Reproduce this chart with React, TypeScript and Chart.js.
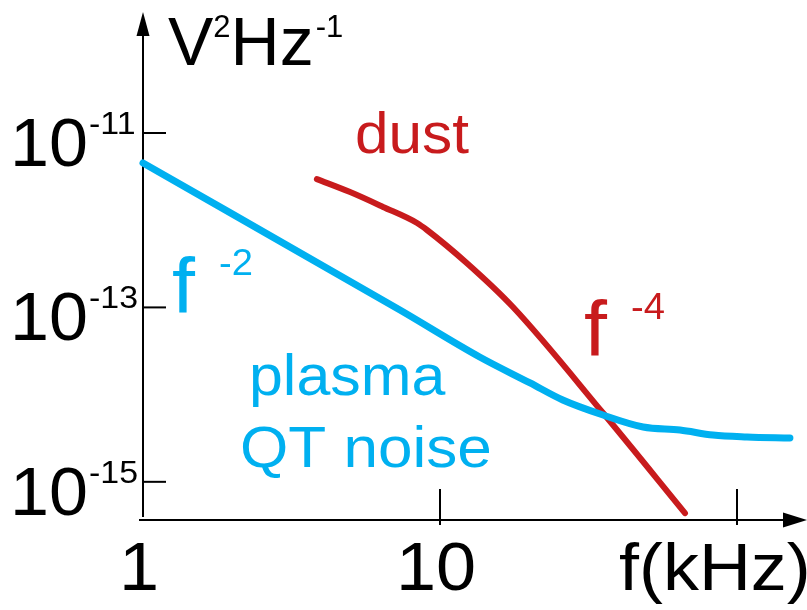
import React, { useEffect, useRef } from "react";
import { Chart, registerables } from "chart.js";

Chart.register(...registerables);

// Plasma QT noise spectrum (kHz, V^2/Hz)
const plasmaFreq = [1, 7.33, 13.6, 20.1, 25.9, 35.4, 48.3, 64.3, 83.0, 108, 150.7];
const plasmaPSD = [4.53e-12, 9.33e-14, 2.7e-14, 1.36e-14, 8.67e-15, 5.83e-15, 4.25e-15, 3.93e-15, 3.44e-15, 3.27e-15, 3.18e-15];

// Dust spectrum
const dustFreq = [3.85, 4.98, 6.43, 8.37, 9.04, 12.3, 17.6, 35.4, 66.8];
const dustPSD = [2.96e-12, 2.1e-12, 1.42e-12, 9.28e-13, 7.72e-13, 3.23e-13, 1.01e-13, 6.15e-15, 4.38e-16];

// Axis ticks
const xTickValues = [1, 10, 100];
const xTickLabels = ["1", "10", ""];
const yTickValues = [1e-11, 1e-13, 1e-15];
const yTickExponents = ["-11", "-13", "-15"];

const X_MIN = 1;
const X_MAX = 159.2;
const Y_MIN = 3.65e-16;
const Y_MAX = 2.44e-10;

const BLUE = "#00b0f0";
const RED = "#c81b1d";
const FONT = '"Liberation Sans", Arial, Helvetica, sans-serif';
const STRETCH = 1.06;

function txt(ctx: CanvasRenderingContext2D, s: string, x: number, y: number, size: number, align: CanvasTextAlign = "left", sx = STRETCH) {
  ctx.save();
  ctx.font = `${size}px ${FONT}`;
  ctx.textAlign = align;
  ctx.translate(x, y);
  ctx.scale(sx, 1);
  ctx.fillText(s, 0, 0);
  const w = ctx.measureText(s).width * sx;
  ctx.restore();
  return w;
}

const axesPlugin = {
  id: "arrowAxes",
  beforeDatasetsDraw(chart: any) {
    const ctx = chart.ctx;
    const xs = chart.scales.x;
    const ys = chart.scales.y;
    const ca = chart.chartArea;
    const ax = xs.getPixelForValue(1);
    const ay = ca.bottom;
    ctx.save();
    ctx.strokeStyle = "#000";
    ctx.fillStyle = "#000";
    ctx.lineWidth = 2;
    // y axis
    ctx.beginPath();
    ctx.moveTo(ax, ay - 3);
    ctx.lineTo(ax, ca.top + 22);
    ctx.stroke();
    ctx.beginPath();
    ctx.moveTo(ax, ca.top);
    ctx.lineTo(ax - 6.5, ca.top + 24);
    ctx.lineTo(ax + 6.5, ca.top + 24);
    ctx.closePath();
    ctx.fill();
    // x axis
    ctx.beginPath();
    ctx.moveTo(ax - 4, ay);
    ctx.lineTo(chart.width - 24, ay);
    ctx.stroke();
    ctx.beginPath();
    ctx.moveTo(chart.width, ay);
    ctx.lineTo(chart.width - 24, ay - 7.5);
    ctx.lineTo(chart.width - 24, ay + 7.5);
    ctx.closePath();
    ctx.fill();
    // y ticks
    yTickValues.forEach((v) => {
      const py = ys.getPixelForValue(v);
      ctx.beginPath();
      ctx.moveTo(ax, py);
      ctx.lineTo(ax + 23, py);
      ctx.stroke();
    });
    // x ticks (skip origin)
    xTickValues.slice(1).forEach((v) => {
      const px = xs.getPixelForValue(v);
      ctx.beginPath();
      ctx.moveTo(px, ay - 31);
      ctx.lineTo(px, ay + 5);
      ctx.stroke();
    });
    ctx.restore();
  },
  afterDatasetsDraw(chart: any) {
    const ctx = chart.ctx;
    const xs = chart.scales.x;
    const ys = chart.scales.y;
    const ca = chart.chartArea;
    const ax = xs.getPixelForValue(1);
    ctx.save();
    ctx.textBaseline = "alphabetic";
    ctx.fillStyle = "#000";

    // y tick labels 10^n
    yTickValues.forEach((v, i) => {
      const py = ys.getPixelForValue(v);
      txt(ctx, "10", ax - 55, py + 33, 68, "right", 1.03);
      txt(ctx, yTickExponents[i], ax - 54, py + 1, 32, "left");
    });

    // x tick labels
    xTickValues.forEach((v, i) => {
      if (!xTickLabels[i]) return;
      const px = xs.getPixelForValue(v);
      txt(ctx, xTickLabels[i], px - 4, ca.bottom + 70, 68, "center");
    });
    txt(ctx, "f(kHz)", 619, ca.bottom + 70, 66, "left", 1.09);

    // y axis unit V^2 Hz^-1
    let x = ax + 25;
    const base = 65;
    x += txt(ctx, "V", x, base, 68, "left", 1.0);
    x += txt(ctx, "2", x, base - 28, 31, "left", 1.0);
    x += txt(ctx, "Hz", x, base, 68, "left", 1.0) + 2;
    txt(ctx, "-1", x, base - 28, 31, "left", 1.0);

    // annotations
    ctx.fillStyle = RED;
    txt(ctx, "dust", 355, 153, 58, "left", 1.04);
    txt(ctx, "f", 584, 356, 78);
    txt(ctx, "-4", 631, 319, 36);

    ctx.fillStyle = BLUE;
    txt(ctx, "f", 172, 313, 78);
    txt(ctx, "-2", 219, 275, 36);
    txt(ctx, "plasma", 249, 395, 58, "left", 1.05);
    txt(ctx, "QT noise", 240, 467, 58, "left", 1.07);

    ctx.restore();
  },
};

export default function App() {
  const canvasRef = useRef<HTMLCanvasElement | null>(null);

  useEffect(() => {
    const canvas = canvasRef.current;
    if (!canvas) return;
    const chart = new Chart(canvas, {
      type: "line",
      data: {
        datasets: [
          {
            label: "plasma QT noise",
            data: plasmaFreq.map((f, i) => ({ x: f, y: plasmaPSD[i] })),
            borderColor: BLUE,
            borderWidth: 7,
            pointRadius: 0,
            cubicInterpolationMode: "monotone",
            borderCapStyle: "round",
            borderJoinStyle: "round",
            clip: false,
            fill: false,
          },
          {
            label: "dust",
            data: dustFreq.map((f, i) => ({ x: f, y: dustPSD[i] })),
            borderColor: RED,
            borderWidth: 6,
            pointRadius: 0,
            cubicInterpolationMode: "monotone",
            borderCapStyle: "round",
            borderJoinStyle: "round",
            clip: false,
            fill: false,
          },
        ],
      },
      options: {
        animation: false,
        responsive: false,
        devicePixelRatio: 1,
        layout: { padding: { left: 143, top: 12, right: 10, bottom: 90 } },
        scales: {
          x: { type: "logarithmic", min: X_MIN, max: X_MAX, display: false },
          y: { type: "logarithmic", min: Y_MIN, max: Y_MAX, display: false },
        },
        plugins: {
          legend: { display: false },
          tooltip: { enabled: false },
        },
      } as any,
      plugins: [axesPlugin],
    });
    return () => chart.destroy();
  }, []);

  return (
    <div style={{ position: "absolute", left: 0, top: 0, width: 807, height: 610, background: "#fff" }}>
      <canvas ref={canvasRef} width={807} height={610} style={{ display: "block" }} />
    </div>
  );
}
